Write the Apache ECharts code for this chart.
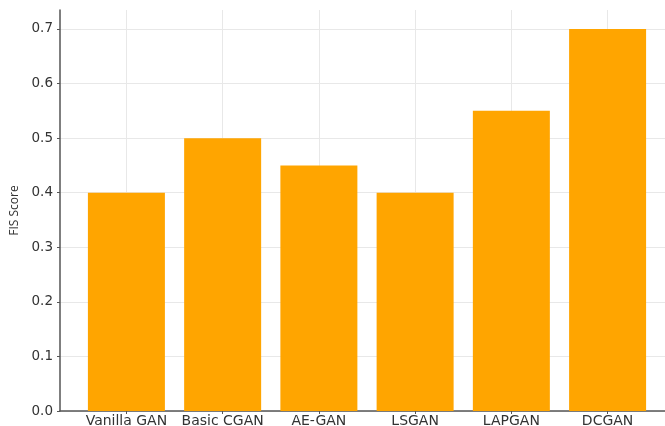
<!DOCTYPE html>
<html>
<head>
<meta charset="utf-8">
<script src="https://cdn.jsdelivr.net/npm/echarts@6/dist/echarts.min.js"></script>
<style>
  html, body { margin: 0; padding: 0; background: #fff; overflow: hidden; }
  #chart { width: 665px; height: 426px; }
</style>
</head>
<body>
<div id="chart"></div>
<script>
// GAN variants and their FIS scores
const models = ['Vanilla GAN', 'Basic CGAN', 'AE-GAN', 'LSGAN', 'LAPGAN', 'DCGAN'];
const fisScores = [0.40, 0.50, 0.45, 0.40, 0.55, 0.70];
const yTicks = [0, 0.1, 0.2, 0.3, 0.4, 0.5, 0.6, 0.7];
const xPositions = models.map((_, i) => i);

const chart = echarts.init(document.getElementById('chart'), null, { renderer: 'canvas' });
const font = 'DejaVu Sans';

chart.setOption({
  animation: false,
  backgroundColor: '#ffffff',
  // plot area runs a little past the right edge of the canvas
  grid: { left: 60, top: 10, bottom: 15, width: 614, containLabel: false, outerBoundsMode: 'none' },
  xAxis: {
    type: 'value',
    min: -0.69,
    max: 5.69,
    minInterval: 1,
    maxInterval: 1,
    axisLine: { show: true, onZero: false, lineStyle: { color: '#555', width: 1.5 } },
    axisTick: { show: true, customValues: xPositions, length: 3, lineStyle: { color: '#555' } },
    axisLabel: {
      customValues: xPositions,
      formatter: v => models[Math.round(v)] || '',
      color: '#333', fontFamily: font, fontSize: 14, margin: 3
    },
    splitLine: { show: true, lineStyle: { color: '#e8e8e8', width: 1 } }
  },
  yAxis: {
    type: 'value',
    min: 0,
    max: 0.7348,
    interval: 0.1,
    name: 'FIS Score',
    nameLocation: 'middle',
    nameGap: 39,
    nameTextStyle: { color: '#333', fontFamily: 'Open Sans', fontSize: 12 },
    axisLine: { show: true, onZero: false, lineStyle: { color: '#555', width: 1.5 } },
    axisTick: { show: true, customValues: yTicks, length: 3, lineStyle: { color: '#555' } },
    axisLabel: {
      customValues: yTicks,
      formatter: v => v.toFixed(1),
      color: '#333', fontFamily: font, fontSize: 13.5, margin: 7
    },
    splitLine: { show: true, lineStyle: { color: '#e8e8e8', width: 1 } }
  },
  series: [{
    type: 'bar',
    data: xPositions.map((x, i) => [x, fisScores[i]]),
    barWidth: 77,
    itemStyle: { color: '#FFA500' }
  }]
});
</script>
</body>
</html>
